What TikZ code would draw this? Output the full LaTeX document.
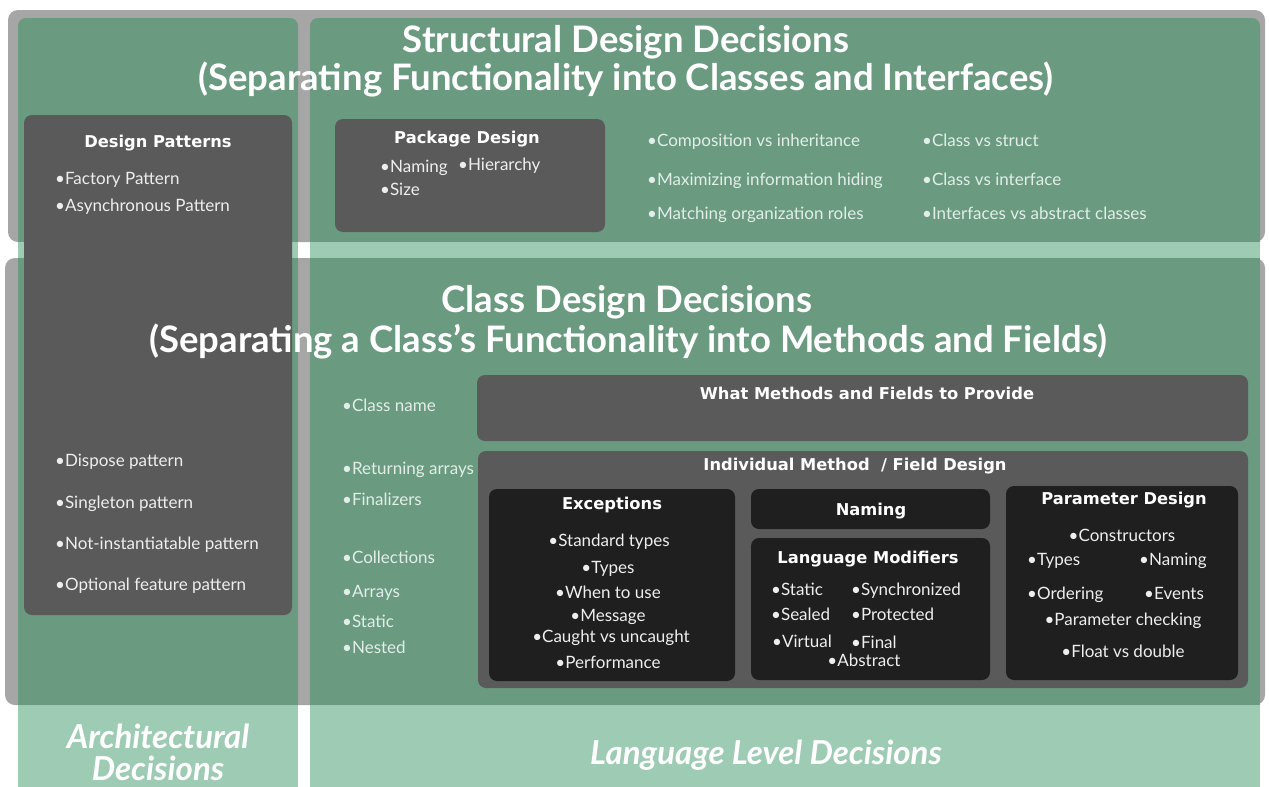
\documentclass[tikz,border=0pt]{standalone}
\usepackage{fontspec}
\setmainfont{Lato}
\newfontfamily\boxfont{DejaVu Sans}
\definecolor{lightgreen}{RGB}{158,203,180}
\definecolor{ovgreen}{RGB}{106,154,128}
\definecolor{bandgray}{RGB}{166,166,166}
\definecolor{boxgray}{RGB}{90,90,90}
\definecolor{boxblack}{RGB}{31,31,31}
\definecolor{itemtxt}{RGB}{238,238,238}
\definecolor{greentxt}{RGB}{226,238,232}
\begin{document}
\begin{tikzpicture}[x=1pt,y=-1pt,
  ttl/.style={text=white, font=\bfseries\fontsize{36.5}{42}\selectfont, anchor=base, inner sep=0},
  btl/.style={text=white, font=\boxfont\bfseries\fontsize{16.3}{19}\selectfont, anchor=base, inner sep=0},
  itm/.style={text=itemtxt, font=\fontsize{17}{20}\selectfont, anchor=base west, inner sep=0},
  itmg/.style={itm, text=greentxt},
  itmc/.style={itm, anchor=base},
  lvl/.style={text=white, font=\bfseries\itshape\fontsize{33}{38}\selectfont, anchor=base, inner sep=0},
  rbox/.style={anchor=north west, inner sep=0, outer sep=0, rounded corners=8pt}]
\useasboundingbox (0,0) rectangle (1269,787);
\fill[white] (0,0) rectangle (1269,787);
% structural band
\fill[bandgray, rounded corners=10pt] (8,10) rectangle (1265,242);
\fill[ovgreen, rounded corners=8pt] (18,18) rectangle (298,250);
\fill[ovgreen, rounded corners=8pt] (310,18) rectangle (1260,250);
% light green columns below
\fill[lightgreen] (18,242) rectangle (298,787);
\fill[lightgreen] (310,242) rectangle (1260,787);
% class band
\fill[bandgray, rounded corners=10pt] (5,258) rectangle (1265,705);
\fill[ovgreen] (18,258) rectangle (298,705);
\fill[ovgreen] (310,258) rectangle (1260,705);

% Design patterns
\node[rbox, fill=boxgray, minimum width=268, minimum height=500] (dp) at (24,115) {};
\node[btl] (dpt) at (158,147) {Design Patterns};
\node[itm] (dp1) at (55,184) {•Factory Pattern};
\node[itm] (dp2) at (55,211) {•Asynchronous Pattern};
\node[itm] (dp3) at (55,466) {•Dispose pattern};
\node[itm] (dp4) at (55,508) {•Singleton pattern};
\node[itm] (dp5) at (55,549) {•Not-instantiatable pattern};
\node[itm] (dp6) at (55,590) {•Optional feature pattern};

% Package design
\node[rbox, fill=boxgray, minimum width=270, minimum height=113] (pd) at (335,119) {};
\node[btl] (pdt) at (467,143) {Package Design};
\node[itm] (pd1) at (380,172) {•Naming};
\node[itm] (pd2) at (458,170) {•Hierarchy};
\node[itm] (pd3) at (380,195) {•Size};

% structural items
\node[itmg] (s1) at (647,146) {•Composition vs inheritance};
\node[itmg] (s2) at (647,185) {•Maximizing information hiding};
\node[itmg] (s3) at (647,219) {•Matching organization roles};
\node[itmg] (s4) at (922,146) {•Class vs struct};
\node[itmg] (s5) at (922,185) {•Class vs interface};
\node[itmg] (s6) at (922,219) {•Interfaces vs abstract classes};

% class items
\node[itmg] (c1) at (342,411) {•Class name};
\node[itmg] (c2) at (342,474) {•Returning arrays};
\node[itmg] (c3) at (342,505) {•Finalizers};
\node[itmg] (c4) at (342,563) {•Collections};
\node[itmg] (c5) at (342,597) {•Arrays};
\node[itmg] (c6) at (342,627) {•Static};
\node[itmg] (c7) at (342,653) {•Nested};

% What methods
\node[rbox, fill=boxgray, minimum width=771, minimum height=66] (wm) at (477,375) {};
\node[btl] (wmt) at (867,399) {What Methods and Fields to Provide};
% Individual
\node[rbox, fill=boxgray, minimum width=770, minimum height=237] (im) at (478,451) {};
\node[btl] (imt) at (855,470) {Individual Method \ / Field Design};

% Exceptions
\node[rbox, fill=boxblack, minimum width=246, minimum height=192] (ex) at (489,489) {};
\node[btl] (ext) at (612,509) {Exceptions};
\node[itmc] (ex1) at (609,546) {•Standard types};
\node[itmc] (ex2) at (608,573) {•Types};
\node[itmc] (ex3) at (608,598) {•When to use};
\node[itmc] (ex4) at (608,621) {•Message};
\node[itmc] (ex5) at (611,642) {•Caught vs uncaught};
\node[itmc] (ex6) at (608,668) {•Performance};

% Naming
\node[rbox, fill=boxblack, minimum width=239, minimum height=40] (nm) at (751,489) {};
\node[btl] (nmt) at (871,515) {Naming};

% Language modifiers
\node[rbox, fill=boxblack, minimum width=239, minimum height=142] (lm) at (751,538) {};
\node[btl] (lmt) at (868,563) {Language Modifiers};
\node[itm] (lm1) at (771,595) {•Static};
\node[itm] (lm2) at (851,595) {•Synchronized};
\node[itm] (lm3) at (771,620) {•Sealed};
\node[itm] (lm4) at (851,620) {•Protected};
\node[itm] (lm5) at (772,647) {•Virtual};
\node[itm] (lm6) at (851,648) {•Final};
\node[itmc] (lm7) at (864,666) {•Abstract};

% Parameter design
\node[rbox, fill=boxblack, minimum width=232, minimum height=194] (pm) at (1006,486) {};
\node[btl] (pmt) at (1124,504) {Parameter Design};
\node[itmc] (pm1) at (1122,541) {•Constructors};
\node[itm] (pm2) at (1027,565) {•Types};
\node[itm] (pm3) at (1139,565) {•Naming};
\node[itm] (pm4) at (1027,599) {•Ordering};
\node[itm] (pm5) at (1144,599) {•Events};
\node[itmc] (pm6) at (1123,625) {•Parameter checking};
\node[itmc] (pm7) at (1123,657) {•Float vs double};

% titles (drawn over the boxes)
\node[ttl] (st1) at (626,52) {Structural Design Decisions};
\node[ttl] (st2) at (626,90) {(Separating Functionality into Classes and Interfaces)};
\node[ttl] (ct1) at (627,312) {Class Design Decisions};
\node[ttl] (ct2) at (628,352) {(Separating a Class’s Functionality into Methods and Fields)};

% level labels
\node[lvl] (ar1) at (158,748) {Architectural};
\node[lvl] (ar2) at (158,780) {Decisions};
\node[lvl] (ll) at (766,764) {Language Level Decisions};
\end{tikzpicture}
\end{document}
